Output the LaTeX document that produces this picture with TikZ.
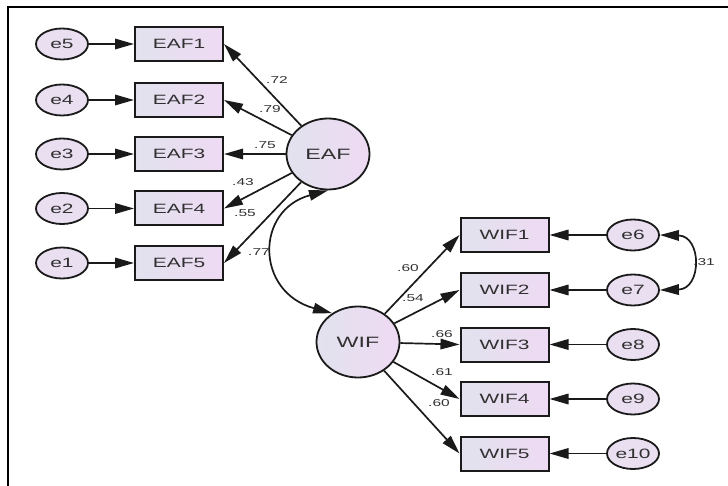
\documentclass[tikz,border=0pt]{standalone}
\usepackage{fontspec}
\setmainfont{Liberation Sans}[FakeStretch=1.55]
\usetikzlibrary{arrows.meta,shapes.geometric}
\definecolor{ink}{HTML}{303030}
\definecolor{edge}{HTML}{1A1A1A}
\definecolor{fillA}{HTML}{E2E2EE}
\definecolor{fillB}{HTML}{EEDAF3}
\definecolor{errfill}{HTML}{E9DFF1}
\begin{document}
\begin{tikzpicture}[x=1pt,y=-1pt,
  obs/.style={rectangle, draw=edge, line width=2pt, minimum width=88pt,
    minimum height=34pt, inner sep=0pt, left color=fillA, right color=fillB,
    text=ink, font=\fontsize{13.5}{15}\selectfont},
  lat/.style={ellipse, draw=edge, line width=1.8pt, minimum width=83pt,
    minimum height=71pt, inner sep=0pt, left color=fillA, right color=fillB,
    text=ink, font=\fontsize{15}{17}\selectfont},
  err/.style={ellipse, draw=edge, line width=1.8pt, minimum width=52pt,
    minimum height=31pt, inner sep=0pt, fill=errfill,
    text=ink, font=\fontsize{13.5}{15}\selectfont},
  arr/.style={-{Triangle[length=19pt,width=10.5pt]}, line width=1.7pt, draw=edge},
  cov/.style={{Triangle[length=19pt,width=10.5pt]}-{Triangle[length=19pt,width=10.5pt]},
    line width=1.7pt, draw=edge},
  lbl/.style={inner sep=0pt, text=ink, font=\fontsize{10}{12}\selectfont}
]
\useasboundingbox (0,0) rectangle (728,486);
% frame
\draw[line width=2.5pt] (8,520) |- (760,7);

% EAF block
\node[lat] (EAF) at (328,154) {EAF};
\foreach \i/\y/\e in {1/44/5, 2/100/4, 3/154/3, 4/208.5/2, 5/263/1}{
  \node[obs] (EAF\i) at (179,\y) {EAF\i};
  \node[err] (e\e) at (62,\y) {e\e};
  \draw[arr] (e\e) -- (EAF\i.west);
  \draw[arr] (EAF) -- (EAF\i.east);
}

% WIF block
\node[lat] (WIF) at (358,342) {WIF};
\foreach \i/\y/\e in {1/235/6, 2/290/7, 3/344.5/8, 4/399/9, 5/453.5/10}{
  \node[obs] (WIF\i) at (504.5,\y) {WIF\i};
  \node[err] (e\e) at (633,\y) {e\e};
  \draw[arr] (e\e) -- (WIF\i.east);
  \draw[arr] (WIF) -- (WIF\i.west);
}

% covariances
\draw[cov] (EAF.south) .. controls (255,210) and (255,292) .. (WIF.132);
\draw[cov] (e6.east) .. controls (702,236) and (702,289) .. (e7.east);

% loadings
\node[lbl] at (277,80) {.72};
\node[lbl] at (270,109) {.79};
\node[lbl] at (265,145) {.75};
\node[lbl] at (243,182) {.43};
\node[lbl] at (245,213) {.55};
\node[lbl] at (259,252) {.77};
\node[lbl] at (408,268) {.60};
\node[lbl] at (413,298) {.54};
\node[lbl] at (442,334) {.66};
\node[lbl] at (442,372) {.61};
\node[lbl] at (439,403) {.60};
\node[lbl] at (704,262) {.31};
\end{tikzpicture}
\end{document}
